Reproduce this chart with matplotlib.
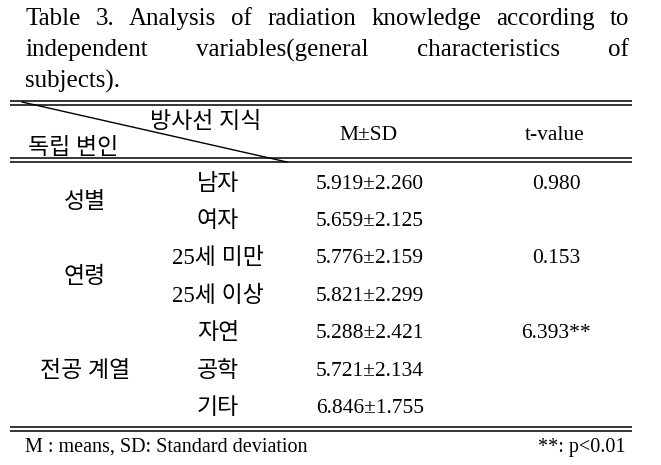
import matplotlib
matplotlib.use("Agg")
import matplotlib.pyplot as plt

### table content
title_lines = [
    "Table 3. Analysis of radiation knowledge according to",
    "independent variables(general characteristics of",
    "subjects).",
]
header_top = "방사선 지식"
header_bottom = "독립 변인"
col_headers = ["M±SD", "t-value"]

groups = ["성별", "연령", "전공 계열"]
group_sizes = [2, 2, 3]
items = ["남자", "여자", "25세 미만", "25세 이상", "자연", "공학", "기타"]
means = [5.919, 5.659, 5.776, 5.821, 5.288, 5.721, 6.846]
sds = [2.260, 2.125, 2.159, 2.299, 2.421, 2.134, 1.755]
t_values = ["0.980", "", "0.153", "", "6.393**", "", ""]
footnote_left = "M : means, SD: Standard deviation"
footnote_right = "**: p<0.01"

FONT = ["Liberation Serif", "Noto Sans CJK KR", "DejaVu Sans"]
plt.rcParams["font.family"] = FONT

W, H = 661, 465
fig = plt.figure(figsize=(W / 100, H / 100), dpi=100)
ax = fig.add_axes([0, 0, 1, 1])
ax.set_xlim(0, W)
ax.set_ylim(H, 0)
ax.axis("off")

renderer = fig.canvas.get_renderer()


def justify(line, y, x0, x1, size, last=False):
    # spread the words of a line so that it fills x0..x1 (last line left as is)
    if last:
        ax.text(x0, y, line, fontsize=size, va="center", ha="left")
        return
    words = line.split()
    texts = [ax.text(0, y, w, fontsize=size, va="center", ha="left") for w in words]
    widths = [t.get_window_extent(renderer).width for t in texts]
    gap = (x1 - x0 - sum(widths)) / (len(words) - 1)
    x = x0
    for t, w in zip(texts, widths):
        t.set_x(x)
        x += w + gap


title_size = 18
for i, line in enumerate(title_lines):
    justify(line, 19 + i * 31, 25, 629, title_size, last=(i == len(title_lines) - 1))

# rules
def double_rule(y):
    for yy in (y, y + 4):
        ax.plot([10, 632], [yy, yy], color="black", lw=1.1, solid_capstyle="butt")

double_rule(101)
double_rule(158)
double_rule(427)

# diagonal header cell
ax.plot([22, 287], [102, 162], color="black", lw=1.0)

body = 15.5
kor = dict(fontsize=16.5, fontweight="light")
ax.text(150, 122, header_top, va="center", ha="left", **kor)
ax.text(28, 148, header_bottom, va="center", ha="left", **kor)
ax.text(368, 135, col_headers[0], fontsize=body, va="center", ha="center")
ax.text(555, 135, col_headers[1], fontsize=body, va="center", ha="center")

row_y0, row_step = 184, 37.4
row = 0
for g, n in zip(groups, group_sizes):
    ys = [row_y0 + (row + k) * row_step for k in range(n)]
    ax.text(85, sum(ys) / n, g, va="center", ha="center", **kor)
    row += n

for i, (it, m, s, t) in enumerate(zip(items, means, sds, t_values)):
    y = row_y0 + i * row_step
    ax.text(218, y, it, va="center", ha="center", **kor)
    ax.text(370, y, f"{m:.3f}±{s:.3f}", fontsize=body, va="center", ha="center")
    if t:
        ax.text(556, y, t, fontsize=body, va="center", ha="center")

ax.text(25, 447, footnote_left, fontsize=14.5, va="center", ha="left")
ax.text(625, 447, footnote_right, fontsize=14.5, va="center", ha="right")

fig.savefig("out.png", dpi=100, facecolor="white")
